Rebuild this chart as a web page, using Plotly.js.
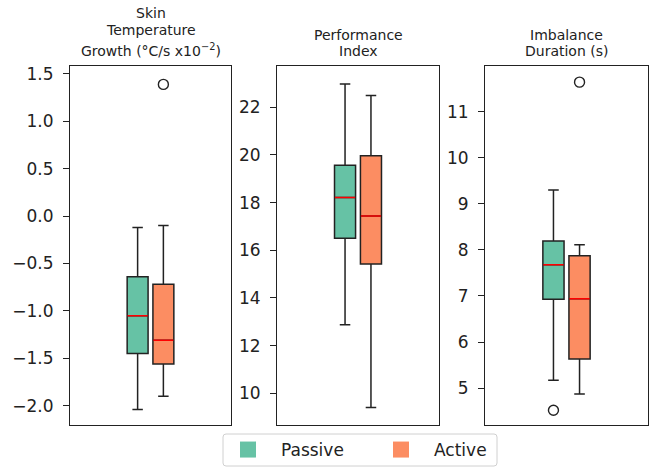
<!DOCTYPE html>
<html>
<head>
<meta charset="utf-8">
<script src="https://cdn.plot.ly/plotly-3.0.1.min.js"></script>
<style>html,body{margin:0;padding:0;background:#fff;}#chart{width:656px;height:468px;}</style>
</head>
<body>
<div id="chart"></div>
<script>
// ---- data ----
const groups = ["Passive", "Active"];
const colors = ["#66c2a5", "#fc8d62"];
const panelTitleLines = [
  ["Skin", "Temperature", "Growth (°C/s x10<sup>−2</sup>)"],
  ["Performance", "Index"],
  ["Imbalance", "Duration (s)"]
];
// per panel: [Passive, Active]
const lowerWhisker = [[-2.04, -1.90], [12.88, 9.40], [5.17, 4.87]];
const q1Vals       = [[-1.45, -1.56], [16.50, 15.42], [6.93, 5.63]];
const medianVals   = [[-1.05, -1.31], [18.21, 17.44], [7.68, 6.94]];
const q3Vals       = [[-0.64, -0.72], [19.57, 19.96], [8.19, 7.87]];
const upperWhisker = [[-0.12, -0.10], [22.98, 22.49], [9.30, 8.11]];
const outliers     = [[[], [1.39]], [[], []], [[4.52], [11.64]]];
const yRanges = [[-2.204, 1.584], [8.67, 23.73], [4.20, 11.99]];
const yDticks = [0.5, 2, 1];
const yFormats = [".1f", "d", "d"];

// ---- layout helpers ----
const positions = [-0.16, 0.16];
const boxWidth = 0.26;
const W = 656, H = 468;
const xDomPx = [[70, 231], [277, 439], [485, 648]];
const yDom = [1 - 425 / H, 1 - 66 / H];
// title line centres (px from top), bottom line last
const titleLineY = [[13, 30, 50], [35, 51], [35, 51]];
const font = "DejaVu Sans";
const ink = "#222222";

const traces = [];
const layout = {
  width: W, height: H,
  margin: {l: 0, r: 0, t: 0, b: 0},
  paper_bgcolor: "#fff", plot_bgcolor: "#fff",
  font: {family: font, color: ink},
  boxmode: "overlay",
  showlegend: true,
  legend: {
    orientation: "h",
    x: 215 / W, xanchor: "left",
    y: 1 - 450 / H, yanchor: "middle",
    borderwidth: 0, bgcolor: "rgba(0,0,0,0)",
    font: {family: font, size: 17, color: ink},
    itemwidth: 56,
    entrywidth: 82, entrywidthmode: "pixels"
  },
  annotations: [],
  shapes: [{
    type: "path", xref: "paper", yref: "paper", layer: "below",
    path: (() => {
      const x0 = 223 / W, x1 = 497 / W, y0 = 1 - 466 / H, y1 = 1 - 434 / H;
      const rx = 3 / W, ry = 3 / H;
      return `M${x0 + rx},${y0} L${x1 - rx},${y0} Q${x1},${y0} ${x1},${y0 + ry} L${x1},${y1 - ry} Q${x1},${y1} ${x1 - rx},${y1} L${x0 + rx},${y1} Q${x0},${y1} ${x0},${y1 - ry} L${x0},${y0 + ry} Q${x0},${y0} ${x0 + rx},${y0} Z`;
    })(),
    line: {color: "#d0d0d0", width: 1}, fillcolor: "rgba(255,255,255,0.8)"
  }]
};

for (let p = 0; p < 3; p++) {
  const sx = p === 0 ? "" : String(p + 1);
  const xa = "x" + sx, ya = "y" + sx;
  layout["xaxis" + sx] = {
    domain: [xDomPx[p][0] / W, xDomPx[p][1] / W],
    range: [-1, 1], showticklabels: false, ticks: "",
    showgrid: false, zeroline: false,
    showline: true, mirror: true, linecolor: ink, linewidth: 1,
    anchor: ya, fixedrange: true
  };
  layout["yaxis" + sx] = {
    domain: yDom, range: yRanges[p], dtick: yDticks[p], tickformat: yFormats[p],
    ticks: "outside", ticklen: 6, tickwidth: 1, tickcolor: ink,
    ticklabelstandoff: 6,
    tickfont: {family: font, size: 17, color: ink},
    showgrid: false, zeroline: false,
    showline: true, mirror: true, linecolor: ink, linewidth: 1,
    anchor: xa, fixedrange: true
  };
  panelTitleLines[p].forEach((line, i) => {
    layout.annotations.push({
      text: line, xref: "paper", yref: "paper",
      x: (xDomPx[p][0] + xDomPx[p][1]) / 2 / W, y: 1 - titleLineY[p][i] / H,
      xanchor: "center", yanchor: "middle",
      showarrow: false, align: "center",
      font: {family: font, size: 14, color: ink}
    });
  });
  for (let g = 0; g < 2; g++) {
    traces.push({
      type: "box", xaxis: xa, yaxis: ya,
      x: [positions[g]],
      q1: [q1Vals[p][g]], median: [medianVals[p][g]], q3: [q3Vals[p][g]],
      lowerfence: [lowerWhisker[p][g]], upperfence: [upperWhisker[p][g]],
      width: boxWidth, whiskerwidth: 0.5,
      fillcolor: colors[g], line: {color: ink, width: 1.5},
      boxpoints: false, showlegend: false, hoverinfo: "skip", name: groups[g]
    });
    // red median line as a flat box on top
    traces.push({
      type: "box", xaxis: xa, yaxis: ya,
      x: [positions[g]],
      q1: [medianVals[p][g]], median: [medianVals[p][g]], q3: [medianVals[p][g]],
      lowerfence: [medianVals[p][g]], upperfence: [medianVals[p][g]],
      width: boxWidth * 0.96, whiskerwidth: 0,
      fillcolor: "rgba(0,0,0,0)", line: {color: "#ff0000", width: 1.5},
      boxpoints: false, showlegend: false, hoverinfo: "skip", name: groups[g] + " median"
    });
    if (outliers[p][g].length) {
      traces.push({
        type: "scatter", mode: "markers", xaxis: xa, yaxis: ya,
        x: outliers[p][g].map(() => positions[g]), y: outliers[p][g],
        marker: {symbol: "circle-open", size: 10, color: ink, line: {width: 1.4, color: ink}},
        showlegend: false, hoverinfo: "skip"
      });
    }
  }
}
// legend entries
for (let g = 0; g < 2; g++) {
  traces.push({
    type: "scatter", mode: "markers", x: [null], y: [null], xaxis: "x", yaxis: "y",
    name: groups[g],
    marker: {symbol: "square", size: 16, color: colors[g], line: {width: 0}},
    showlegend: true, hoverinfo: "skip"
  });
}

Plotly.newPlot("chart", traces, layout, {displayModeBar: false, staticPlot: true});
</script>
</body>
</html>
